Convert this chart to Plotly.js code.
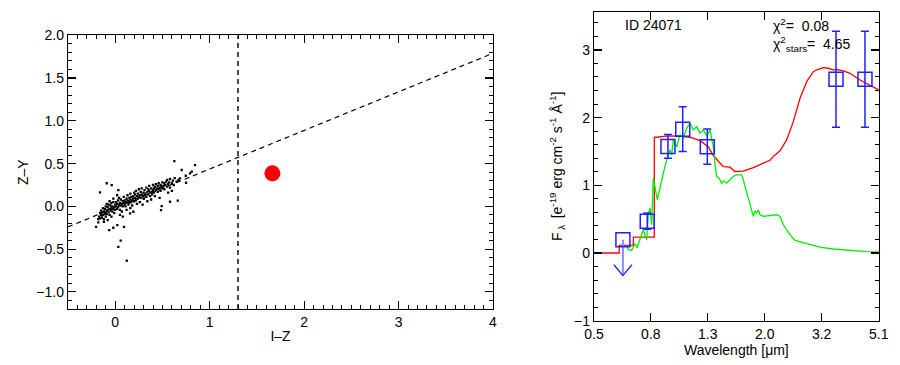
<!DOCTYPE html>
<html><head><meta charset="utf-8">
<script src="https://cdn.plot.ly/plotly-3.0.1.min.js"></script>
<style>html,body{margin:0;padding:0;background:#fff}#chart{width:900px;height:365px}</style>
</head><body><div id="chart"></div>
<script>
// ---------- Left panel: I-Z vs Z-Y colour-colour diagram ----------
// field stars as [I-Z, Z-Y] pairs
const fieldStars = [
[-0.17,-0.12],[-0.16,-0.08],[-0.15,-0.10],[-0.15,-0.05],[-0.14,-0.13],[-0.14,-0.07],[-0.13,-0.02],[-0.13,-0.10],[-0.12,-0.06],[-0.12,-0.15],
[-0.11,-0.09],[-0.11,-0.03],[-0.10,-0.07],[-0.10,-0.12],[-0.10,0.00],[-0.09,-0.05],[-0.18,-0.15],[-0.16,-0.14],[-0.12,-0.18],[-0.08,-0.16],
[-0.09,-0.09],[-0.08,-0.04],[-0.08,-0.01],[-0.07,-0.07],[-0.07,0.02],[-0.06,-0.03],[-0.06,-0.10],[-0.05,-0.05],[-0.05,0.01],[-0.04,-0.02],
[-0.04,0.04],[-0.03,-0.06],[-0.03,0.00],[-0.02,-0.03],[-0.02,0.05],[-0.01,-0.01],[-0.01,-0.08],[0.00,0.02],[0.00,-0.04],[-0.06,0.06],
[-0.04,-0.12],[-0.02,0.09],[-0.09,0.03],
[0.01,0.00],[0.01,0.05],[0.02,-0.03],[0.02,0.03],[0.03,0.07],[0.03,-0.01],[0.04,0.02],[0.04,0.10],[0.05,-0.04],[0.05,0.04],
[0.06,0.01],[0.06,0.08],[0.07,0.03],[0.07,-0.06],[0.08,0.06],[0.08,0.00],[0.09,0.04],[0.09,0.11],[0.10,0.02],[0.10,0.07],
[0.02,0.13],[0.05,-0.10],[0.08,-0.12],
[0.11,0.05],[0.11,0.00],[0.12,0.09],[0.12,0.04],[0.13,0.07],[0.13,0.13],[0.14,0.02],[0.14,0.06],[0.15,0.10],[0.15,0.04],
[0.16,0.08],[0.16,0.15],[0.17,0.05],[0.17,0.11],[0.18,0.07],[0.18,0.01],[0.19,0.12],[0.19,0.09],[0.20,0.06],[0.20,0.16],
[0.12,-0.04],[0.16,-0.02],
[0.21,0.10],[0.21,0.14],[0.22,0.07],[0.22,0.18],[0.23,0.12],[0.24,0.09],[0.24,0.15],[0.25,0.20],[0.25,0.11],[0.26,0.13],
[0.26,0.05],[0.27,0.17],[0.27,0.10],[0.28,0.14],[0.28,0.21],[0.29,0.12],[0.30,0.16],[0.30,0.09],[0.23,0.03],[0.29,0.02],
[0.31,0.19],[0.31,0.13],[0.32,0.15],[0.33,0.22],[0.33,0.11],[0.34,0.17],[0.35,0.14],[0.35,0.20],[0.36,0.18],[0.36,0.24],
[0.37,0.12],[0.37,0.16],[0.38,0.21],[0.39,0.17],[0.39,0.14],[0.40,0.19],[0.40,0.25],[0.34,0.06],[0.38,0.08],
[0.41,0.21],[0.41,0.16],[0.42,0.23],[0.43,0.19],[0.43,0.26],[0.44,0.21],[0.45,0.17],[0.45,0.24],[0.46,0.20],[0.46,0.27],
[0.47,0.22],[0.48,0.25],[0.48,0.18],[0.49,0.23],[0.50,0.21],[0.50,0.28],[0.42,0.12],[0.47,0.10],
[0.51,0.24],[0.52,0.27],[0.52,0.20],[0.53,0.25],[0.54,0.29],[0.55,0.23],[0.55,0.31],[0.56,0.26],[0.57,0.28],[0.58,0.22],
[0.58,0.32],[0.60,0.27],[0.61,0.30],[0.62,0.25],[0.63,0.33],[0.65,0.29],[0.67,0.31],[0.56,0.16],[0.60,0.18],
[0.626,0.53],[0.704,0.425],[0.845,0.483],[0.81,0.405],[-0.09,0.27],[-0.037,0.249],[-0.161,0.164],[0.033,0.19],
[0.058,-0.40],[0.033,-0.473],[0.122,-0.636],[-0.203,-0.239],[-0.063,-0.277],[-0.02,-0.25],[0.022,-0.219],[0.093,-0.239],
[-0.179,-0.187],[0.485,-0.043],[0.492,0.003],[0.58,0.054],[0.662,0.066],[0.305,0.094],[0.192,-0.063],[0.157,-0.082],
[0.747,0.358],[0.792,0.386],[0.75,0.276],[0.686,0.327]
];
const izColor = fieldStars.map(p => p[0]);
const zyColor = fieldStars.map(p => p[1]);
const targetIZ = [1.664];
const targetZY = [0.386];
const boundaryIZ = [-0.5, 4.0];
const boundaryZY = [-0.24, 1.79];
const cutIZ = [1.3, 1.3];
const cutZY = [-1.2, 2.0];
const leftXTicks = [0, 1, 2, 3, 4];
const leftYTicks = [-1.0, -0.5, 0.0, 0.5, 1.0, 1.5, 2.0];

// ---------- Right panel: SED of ID 24071 ----------
const galaxyLam  = [0.5,0.614,0.614,0.689,0.689,0.8176,0.8176,0.834,0.90,0.982,1.094,1.187,1.27,1.323,1.397,1.436,1.516,1.579,1.69,1.834,1.989,2.101,2.159,2.28,2.407,2.541,2.684,2.835,2.991,3.1,3.246,3.381,3.522,3.65,3.82,4.035,4.378,4.75,5.1];
const galaxyFlux = [0,0,0.112,0.112,0.236,0.236,1.711,1.71,1.725,1.73,1.71,1.66,1.57,1.44,1.33,1.277,1.268,1.204,1.21,1.26,1.327,1.37,1.425,1.51,1.671,1.941,2.286,2.531,2.678,2.71,2.737,2.729,2.704,2.71,2.689,2.655,2.556,2.482,2.41];
const starLam  = [0.6526,0.6613,0.680,0.6985,0.710,0.7278,0.7475,0.758,0.7686,0.7786,0.7896,0.8006,0.811,0.8385,0.8565,0.8801,0.9048,0.9295,0.9423,0.9548,0.9817,1.0083,1.0358,1.0651,1.094,1.124,1.156,1.187,1.219,1.254,1.288,1.323,1.341,1.36,1.386,1.417,1.444,1.476,1.516,1.557,1.601,1.668,1.690,1.738,1.785,1.834,1.859,1.884,1.912,1.936,1.989,2.101,2.22,2.280,2.342,2.474,2.576,2.835,3.16,3.522,4.035,4.624,5.1];
const starFlux = [0.122,0.049,0.041,0.137,0.078,0.196,0.344,0.255,0.196,0.565,0.668,0.417,1.106,0.786,0.982,1.18,1.376,1.524,1.45,1.67,1.568,1.745,1.70,1.844,1.917,1.818,1.867,1.77,1.82,1.73,1.82,1.572,1.327,1.13,1.11,1.032,1.066,1.032,1.081,1.13,1.155,1.155,1.081,0.885,0.712,0.54,0.624,0.59,0.639,0.565,0.54,0.55,0.565,0.54,0.417,0.27,0.186,0.137,0.088,0.059,0.038,0.019,0.015];
const photLam  = [0.772, 0.914, 1.031, 1.26, 3.6, 4.56];
const photFlux = [0.47, 1.575, 1.829, 1.57, 2.566, 2.566];
const photErr  = [0.12, 0.177, 0.33, 0.26, 0.71, 0.71];
const ulLam  = [0.633];
const ulFlux = [0.196];
const wlTickVals = [0.5, 0.795, 1.265, 2.013, 3.203, 5.1];
const wlTickText = ['0.5', '0.8', '1.3', '2.0', '3.2', '5.1'];
const fluxTicks = [-1, 0, 1, 2, 3];

const FONT = 'Liberation Sans, Arial, Helvetica, sans-serif';
const BLUE = '#1f1fff';

// upper-limit arrows (shaft + open V head), built from the limit values
const ARROW_LEN = 0.53, HEAD_H = 0.16, HEAD_LOGW = 0.032;
const ulShaftX = [], ulShaftY = [], ulHeadX = [], ulHeadY = [];
ulLam.forEach((l, i) => {
  const tip = ulFlux[i] - ARROW_LEN;
  ulShaftX.push(l, l, null); ulShaftY.push(ulFlux[i], tip, null);
  ulHeadX.push(l * Math.pow(10, -HEAD_LOGW), l, l * Math.pow(10, HEAD_LOGW), null);
  ulHeadY.push(tip + HEAD_H, tip, tip + HEAD_H, null);
});

const traces = [
  {x: izColor, y: zyColor, type: 'scatter', mode: 'markers', xaxis: 'x', yaxis: 'y',
   marker: {color: 'black', size: 2.3, symbol: 'square'}, hoverinfo: 'skip'},
  {x: boundaryIZ, y: boundaryZY, type: 'scatter', mode: 'lines', xaxis: 'x', yaxis: 'y',
   line: {color: 'black', width: 1.2, dash: '5px,4px'}},
  {x: cutIZ, y: cutZY, type: 'scatter', mode: 'lines', xaxis: 'x', yaxis: 'y',
   line: {color: 'black', width: 1.4, dash: '5px,4px'}},
  {x: targetIZ, y: targetZY, type: 'scatter', mode: 'markers', xaxis: 'x', yaxis: 'y',
   marker: {color: '#ff0000', size: 16}},
  {x: galaxyLam, y: galaxyFlux, type: 'scatter', mode: 'lines', xaxis: 'x2', yaxis: 'y2',
   line: {color: '#ff0000', width: 1.3}},
  {x: starLam, y: starFlux, type: 'scatter', mode: 'lines', xaxis: 'x2', yaxis: 'y2',
   line: {color: '#00ee00', width: 1.3}},
  {x: photLam, y: photFlux, type: 'scatter', mode: 'markers', xaxis: 'x2', yaxis: 'y2',
   marker: {symbol: 'square-open', size: 14, color: BLUE, line: {width: 1.5, color: BLUE}},
   error_y: {type: 'data', array: photErr, visible: true, color: BLUE, thickness: 1.5, width: 4}},
  {x: ulShaftX, y: ulShaftY, type: 'scatter', mode: 'lines', xaxis: 'x2', yaxis: 'y2',
   line: {color: '#8c8cff', width: 2}},
  {x: ulHeadX, y: ulHeadY, type: 'scatter', mode: 'lines', xaxis: 'x2', yaxis: 'y2',
   line: {color: BLUE, width: 1.3}},
  {x: ulLam, y: ulFlux, type: 'scatter', mode: 'markers', xaxis: 'x2', yaxis: 'y2',
   marker: {symbol: 'square-open', size: 14, color: BLUE, line: {width: 1.5, color: BLUE}}}
];

const axisCommon = {
  showline: true, linecolor: 'black', linewidth: 1.2, mirror: 'allticks',
  ticks: 'inside', tickcolor: 'black', ticklen: 8, tickwidth: 1.2,
  showgrid: false, zeroline: false,
  tickfont: {family: FONT, size: 14, color: 'black'}
};
const minorCommon = {ticks: 'inside', ticklen: 4, tickcolor: 'black', tickwidth: 1, tickmode: 'linear', tick0: 0, showgrid: false};
const titleFont = {family: FONT, size: 14, color: 'black'};

const annotations = [
  {xref: 'paper', yref: 'paper', x: 623/900, y: 1 - 25/365, xanchor: 'left', yanchor: 'middle',
   text: 'ID 24071', showarrow: false, font: {family: FONT, size: 14, color: 'black'}},
  {xref: 'paper', yref: 'paper', x: 771/900, y: 1 - 25/365, xanchor: 'left', yanchor: 'middle',
   text: 'χ<sup>2</sup>=  0.08', showarrow: false, font: {family: FONT, size: 14, color: 'black'}},
  {xref: 'paper', yref: 'paper', x: 771/900, y: 1 - 44/365, xanchor: 'left', yanchor: 'middle',
   text: 'χ<sup>2</sup><sub>stars</sub>=  4.65', showarrow: false, font: {family: FONT, size: 14, color: 'black'}}
];

const layout = {
  width: 900, height: 365, margin: {l: 0, r: 0, t: 0, b: 0},
  paper_bgcolor: 'white', plot_bgcolor: 'white', showlegend: false,
  font: {family: FONT, color: 'black'},
  xaxis: Object.assign({}, axisCommon, {
    domain: [68/900, 493/900], range: [-0.5, 4], anchor: 'y',
    tickmode: 'array', tickvals: leftXTicks, ticktext: leftXTicks.map(String),
    minor: Object.assign({}, minorCommon, {dtick: 0.1}),
    title: {text: 'I–Z', font: titleFont, standoff: 2}
  }),
  yaxis: Object.assign({}, axisCommon, {
    domain: [1 - 309/365, 1 - 35.3/365], range: [-1.2, 2.0], anchor: 'x',
    tickmode: 'array', tickvals: leftYTicks, tickformat: '.1f',
    minor: Object.assign({}, minorCommon, {dtick: 0.1}),
    title: {text: 'Z–Y', font: titleFont, standoff: 4}
  }),
  xaxis2: Object.assign({}, axisCommon, {
    type: 'log', domain: [594/900, 878.7/900], range: [Math.log10(0.5), Math.log10(5.1)], anchor: 'y2',
    tickmode: 'array', tickvals: wlTickVals, ticktext: wlTickText,
    title: {text: 'Wavelength [μm]', font: titleFont, standoff: 2}
  }),
  yaxis2: Object.assign({}, axisCommon, {
    domain: [1 - 320.7/365, 1 - 12/365], range: [-1, 3.56], anchor: 'x2',
    tickmode: 'array', tickvals: fluxTicks,
    minor: Object.assign({}, minorCommon, {dtick: 0.2}),
    title: {text: 'F<sub> λ </sub> [e<sup>-19</sup> erg cm<sup>-2</sup> s<sup>-1</sup> Å<sup>-1</sup>]', font: titleFont, standoff: 8}
  }),
  annotations: annotations
};

Plotly.newPlot('chart', traces, layout, {displayModeBar: false, responsive: false, staticPlot: true});
</script>
</body></html>
